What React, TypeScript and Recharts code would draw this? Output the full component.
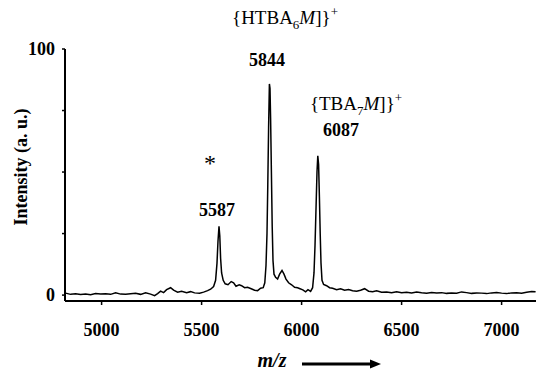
import { LineChart, Line, XAxis, YAxis } from "recharts"

// m/z positions
const mzValues = [
  4820, 4845, 4870, 4895, 4920, 4945, 4970, 4995, 5020, 5045, 5070, 5095, 5120, 5145, 5170, 5195,
  5220, 5245, 5265, 5280, 5295, 5310, 5325, 5345, 5360, 5380, 5400, 5425, 5445, 5465, 5490, 5510,
  5530, 5545, 5560, 5570, 5577, 5582, 5587, 5591, 5595, 5600, 5608, 5618, 5632, 5648, 5660, 5672,
  5688, 5700, 5715, 5730, 5748, 5765, 5780, 5795, 5808, 5816, 5822, 5827, 5831, 5835, 5839, 5842,
  5845, 5849, 5853, 5857, 5862, 5870, 5880, 5890, 5902, 5912, 5922, 5935, 5950, 5965, 5980, 5995,
  6008, 6020, 6032, 6045, 6055, 6062, 6067, 6072, 6077, 6081, 6085, 6089, 6093, 6097, 6102, 6110,
  6125, 6140, 6155, 6175, 6195, 6215, 6235, 6255, 6275, 6295, 6315, 6335, 6355, 6375, 6400, 6425,
  6450, 6475, 6500, 6525, 6550, 6575, 6600, 6625, 6650, 6675, 6700, 6725, 6750, 6775, 6800, 6825,
  6850, 6875, 6900, 6925, 6950, 6975, 7000, 7025, 7050, 7075, 7100, 7125, 7150, 7170,
]

// intensity (a. u.) at each m/z above
const intensityValues = [
  0.8, 0.3, 0.5, 0.2, 0.4, 0.1, 0.6, 0.4, 0.5, 0.3, 0.9, 0.4, 0.3, 0.5, 0.7, 0.3,
  0.9, 0.4, -0.2, 0.6, 1.6, 1.0, 2.2, 3.0, 2.0, 1.2, 1.6, 1.0, 1.4, 0.9, 0.8, 1.2,
  1.8, 2.4, 3.5, 6, 13, 22, 28, 24, 15, 9, 6, 4.6, 4.2, 5.5, 5.0, 3.6,
  4.2, 3.8, 3.0, 3.2, 2.6, 2.0, 1.8, 2.8, 3.0, 5, 12, 25, 45, 68, 85.8, 84,
  72, 50, 28, 14, 8.5, 7.2, 6.5, 8.5, 10, 8.5, 6.5, 5.0, 4.2, 3.2, 3.0, 2.5,
  2.0, 1.3, 2.2, 1.5, 3, 9, 20, 35, 50, 56.6, 53, 40, 25, 13, 6, 4.3,
  3.8, 3.0, 2.8, 2.2, 2.6, 2.0, 2.3, 1.8, 1.6, 2.0, 2.6, 1.6, 1.4, 1.8, 1.2, 1.3,
  1.0, 1.4, 1.0, 1.2, 0.9, 1.3, 1.0, 0.8, 1.1, 0.9, 1.0, 0.7, 0.9, 0.8, 1.3, 1.0,
  0.7, 0.9, 0.8, 0.6, 0.9, 1.1, 0.8, 0.6, 0.9, 1.0, 0.8, 1.2, 1.5, 1.4,
]

const xTicks = [5000, 5500, 6000, 6500, 7000]
const yTicks = [0, 25, 50, 75, 100]
const yLabelled = [0, 100]

const data = mzValues.map((mz, i) => ({ mz, intensity: intensityValues[i] }))

const font = "'Liberation Serif', 'Times New Roman', serif"
const tickStyle = { fontFamily: font, fontWeight: 700, fontSize: 18, fill: "#000" }

export default function App() {
  return (
    <div style={{ position: "absolute", left: 0, top: 0, width: 536, height: 372, background: "#fff" }}>
      <LineChart width={536} height={372} data={data} margin={{ top: 49, right: 0, left: 0, bottom: 31 }}>
        <XAxis
          dataKey="mz"
          type="number"
          domain={[4817, 7172]}
          ticks={xTicks}
          allowDataOverflow
          height={40}
          tick={tickStyle}
          tickSize={4}
          tickMargin={18}
          axisLine={{ stroke: "#000", strokeWidth: 2 }}
          tickLine={{ stroke: "#000", strokeWidth: 1.5 }}
        />
        <YAxis
          type="number"
          domain={[-2.4, 100]}
          ticks={yTicks}
          allowDataOverflow
          width={65}
          tick={tickStyle}
          tickFormatter={(v: number) => (yLabelled.includes(v) ? `${v}` : "")}
          tickSize={3}
          tickMargin={7}
          axisLine={{ stroke: "#000", strokeWidth: 2 }}
          tickLine={{ stroke: "#000", strokeWidth: 1.5 }}
        />
        <Line
          dataKey="intensity"
          type="linear"
          stroke="#000"
          strokeWidth={1.5}
          dot={false}
          isAnimationActive={false}
        />
      </LineChart>
      <svg
        width={536}
        height={372}
        style={{ position: "absolute", left: 0, top: 0, pointerEvents: "none" }}
        fontFamily={font}
        fill="#000"
      >
        <text x={285} y={24} fontSize={19} textAnchor="middle" fill="#000">
          {"{HTBA"}
          <tspan fontSize={13} dy={5}>6</tspan>
          <tspan fontStyle="italic" dy={-5}>M</tspan>
          <tspan>{"]}"}</tspan>
          <tspan fontSize={13} dy={-8}>+</tspan>
        </text>
        <text x={267} y={66} fontSize={18} fontWeight={700} textAnchor="middle">5844</text>
        <text x={356} y={110} fontSize={19} textAnchor="middle" fill="#000">
          {"{TBA"}
          <tspan fontSize={13} dy={5}>7</tspan>
          <tspan fontStyle="italic" dy={-5}>M</tspan>
          <tspan>{"]}"}</tspan>
          <tspan fontSize={13} dy={-8}>+</tspan>
        </text>
        <text x={341} y={136} fontSize={18} fontWeight={700} textAnchor="middle">6087</text>
        <text x={210} y={171} fontSize={24} textAnchor="middle">*</text>
        <text x={217} y={216} fontSize={18} fontWeight={700} textAnchor="middle">5587</text>
        <text
          x={0}
          y={0}
          fontSize={18}
          fontWeight={700}
          textAnchor="middle"
          transform="translate(27 167) rotate(-90)"
        >
          Intensity (a. u.)
        </text>
        <text x={272} y={367} fontSize={20} fontWeight={700} fontStyle="italic" textAnchor="middle">
          m/z
        </text>
        <line x1={302} y1={364} x2={372} y2={364} stroke="#000" strokeWidth={3} />
        <polygon points="370,359.5 381,364 370,368.5" fill="#000" />
      </svg>
    </div>
  )
}
